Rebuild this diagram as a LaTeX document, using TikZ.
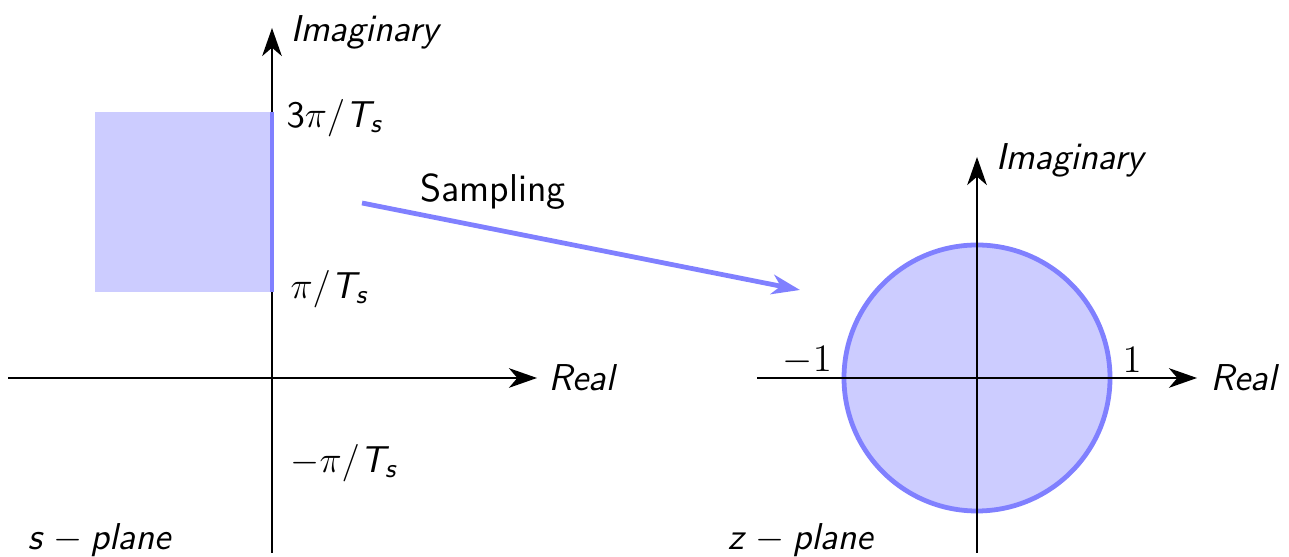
\RequirePackage{fix-cm}
\documentclass[tikz,border=0pt]{standalone}
\usepackage{amsmath}
\usetikzlibrary{arrows.meta,positioning,calc}
\DeclareMathAlphabet{\mathsfit}{OT1}{cmss}{m}{sl}
\newcommand{\lblsize}{\fontsize{13.8pt}{16pt}\selectfont}
\newcommand{\mathlblsize}{\fontsize{13.3pt}{16pt}\selectfont}
\tikzset{
  axis/.style={-{Stealth[length=10pt,width=7pt,inset=3pt]},semithick},
  region/.style={fill=blue!20,draw=none},
  edgeln/.style={draw=blue!50,line width=1.7pt},
  samparr/.style={-{Stealth[length=10pt,width=7pt,inset=3pt]},blue!50,line width=1.7pt},
  lbl/.style={font=\sffamily\mathlblsize,inner sep=0pt,anchor=west}
}
\begin{document}
\begin{tikzpicture}
  \useasboundingbox (0,0) rectangle (16.1125,6.9625);

  % s-plane
  \coordinate (sO) at (3.4,2.2375);
  \coordinate (sBot) at (3.4,0.05);
  \coordinate (sTop) at (3.4,6.6125);
  \coordinate (sLeft) at (0.1,2.2375);
  \coordinate (sRight) at (6.7125,2.2375);
  \coordinate (stripLo) at (3.4,3.3125);
  \coordinate (stripHi) at (3.4,5.5625);
  \fill[region] (1.1875,3.3125) rectangle (stripHi);
  \draw[axis] (sLeft) -- (sRight);
  \draw[axis] (sBot) -- (sTop);
  \draw[edgeln] (stripLo) -- (stripHi);

  \node[lbl] (sIm) at (3.625,6.56) {$\mathsfit{Imaginary}$};
  \node[lbl] (sRe) at (6.85,2.2375) {$\mathsfit{Real}$};
  \node[lbl] (top) at (3.575,5.49) {$\mathsf{3}\pi/\mathsfit{T}_{\mathsfit{s}}$};
  \node[lbl] (mid) at (3.625,3.35) {$\pi/\mathsfit{T}_{\mathsfit{s}}$};
  \node[lbl] (neg) at (3.625,1.175) {$-\pi/\mathsfit{T}_{\mathsfit{s}}$};
  \node[lbl] (splane) at (0.34,0.21) {$\mathsfit{s}-\mathsfit{plane}$};

  % z-plane
  \coordinate (zO) at (12.2125,2.2375);
  \coordinate (zBot) at (12.2125,0.05);
  \coordinate (zTop) at (12.2125,5.0);
  \coordinate (zLeft) at (9.4625,2.2375);
  \coordinate (zRight) at (14.9625,2.2375);
  \filldraw[fill=blue!20,edgeln] (zO) circle (1.6625);
  \draw[axis] (zLeft) -- (zRight);
  \draw[axis] (zBot) -- (zTop);

  \node[lbl] (zIm) at (12.44,4.96) {$\mathsfit{Imaginary}$};
  \node[lbl] (zRe) at (15.125,2.2375) {$\mathsfit{Real}$};
  \node[font=\lblsize] (mone) at (10.09,2.46) {$-1$};
  \node[font=\lblsize] (one) at (14.15,2.46) {$1$};
  \node[lbl] (zplane) at (9.09,0.21) {$\mathsfit{z}-\mathsfit{plane}$};

  % mapping
  \coordinate (from) at (4.525,4.425);
  \coordinate (to) at (10.0,3.3375);
  \draw[samparr] (from) -- (to);
  \node[font=\sffamily\lblsize] (samp) at (6.1625,4.5625) {Sampling};
\end{tikzpicture}
\end{document}
